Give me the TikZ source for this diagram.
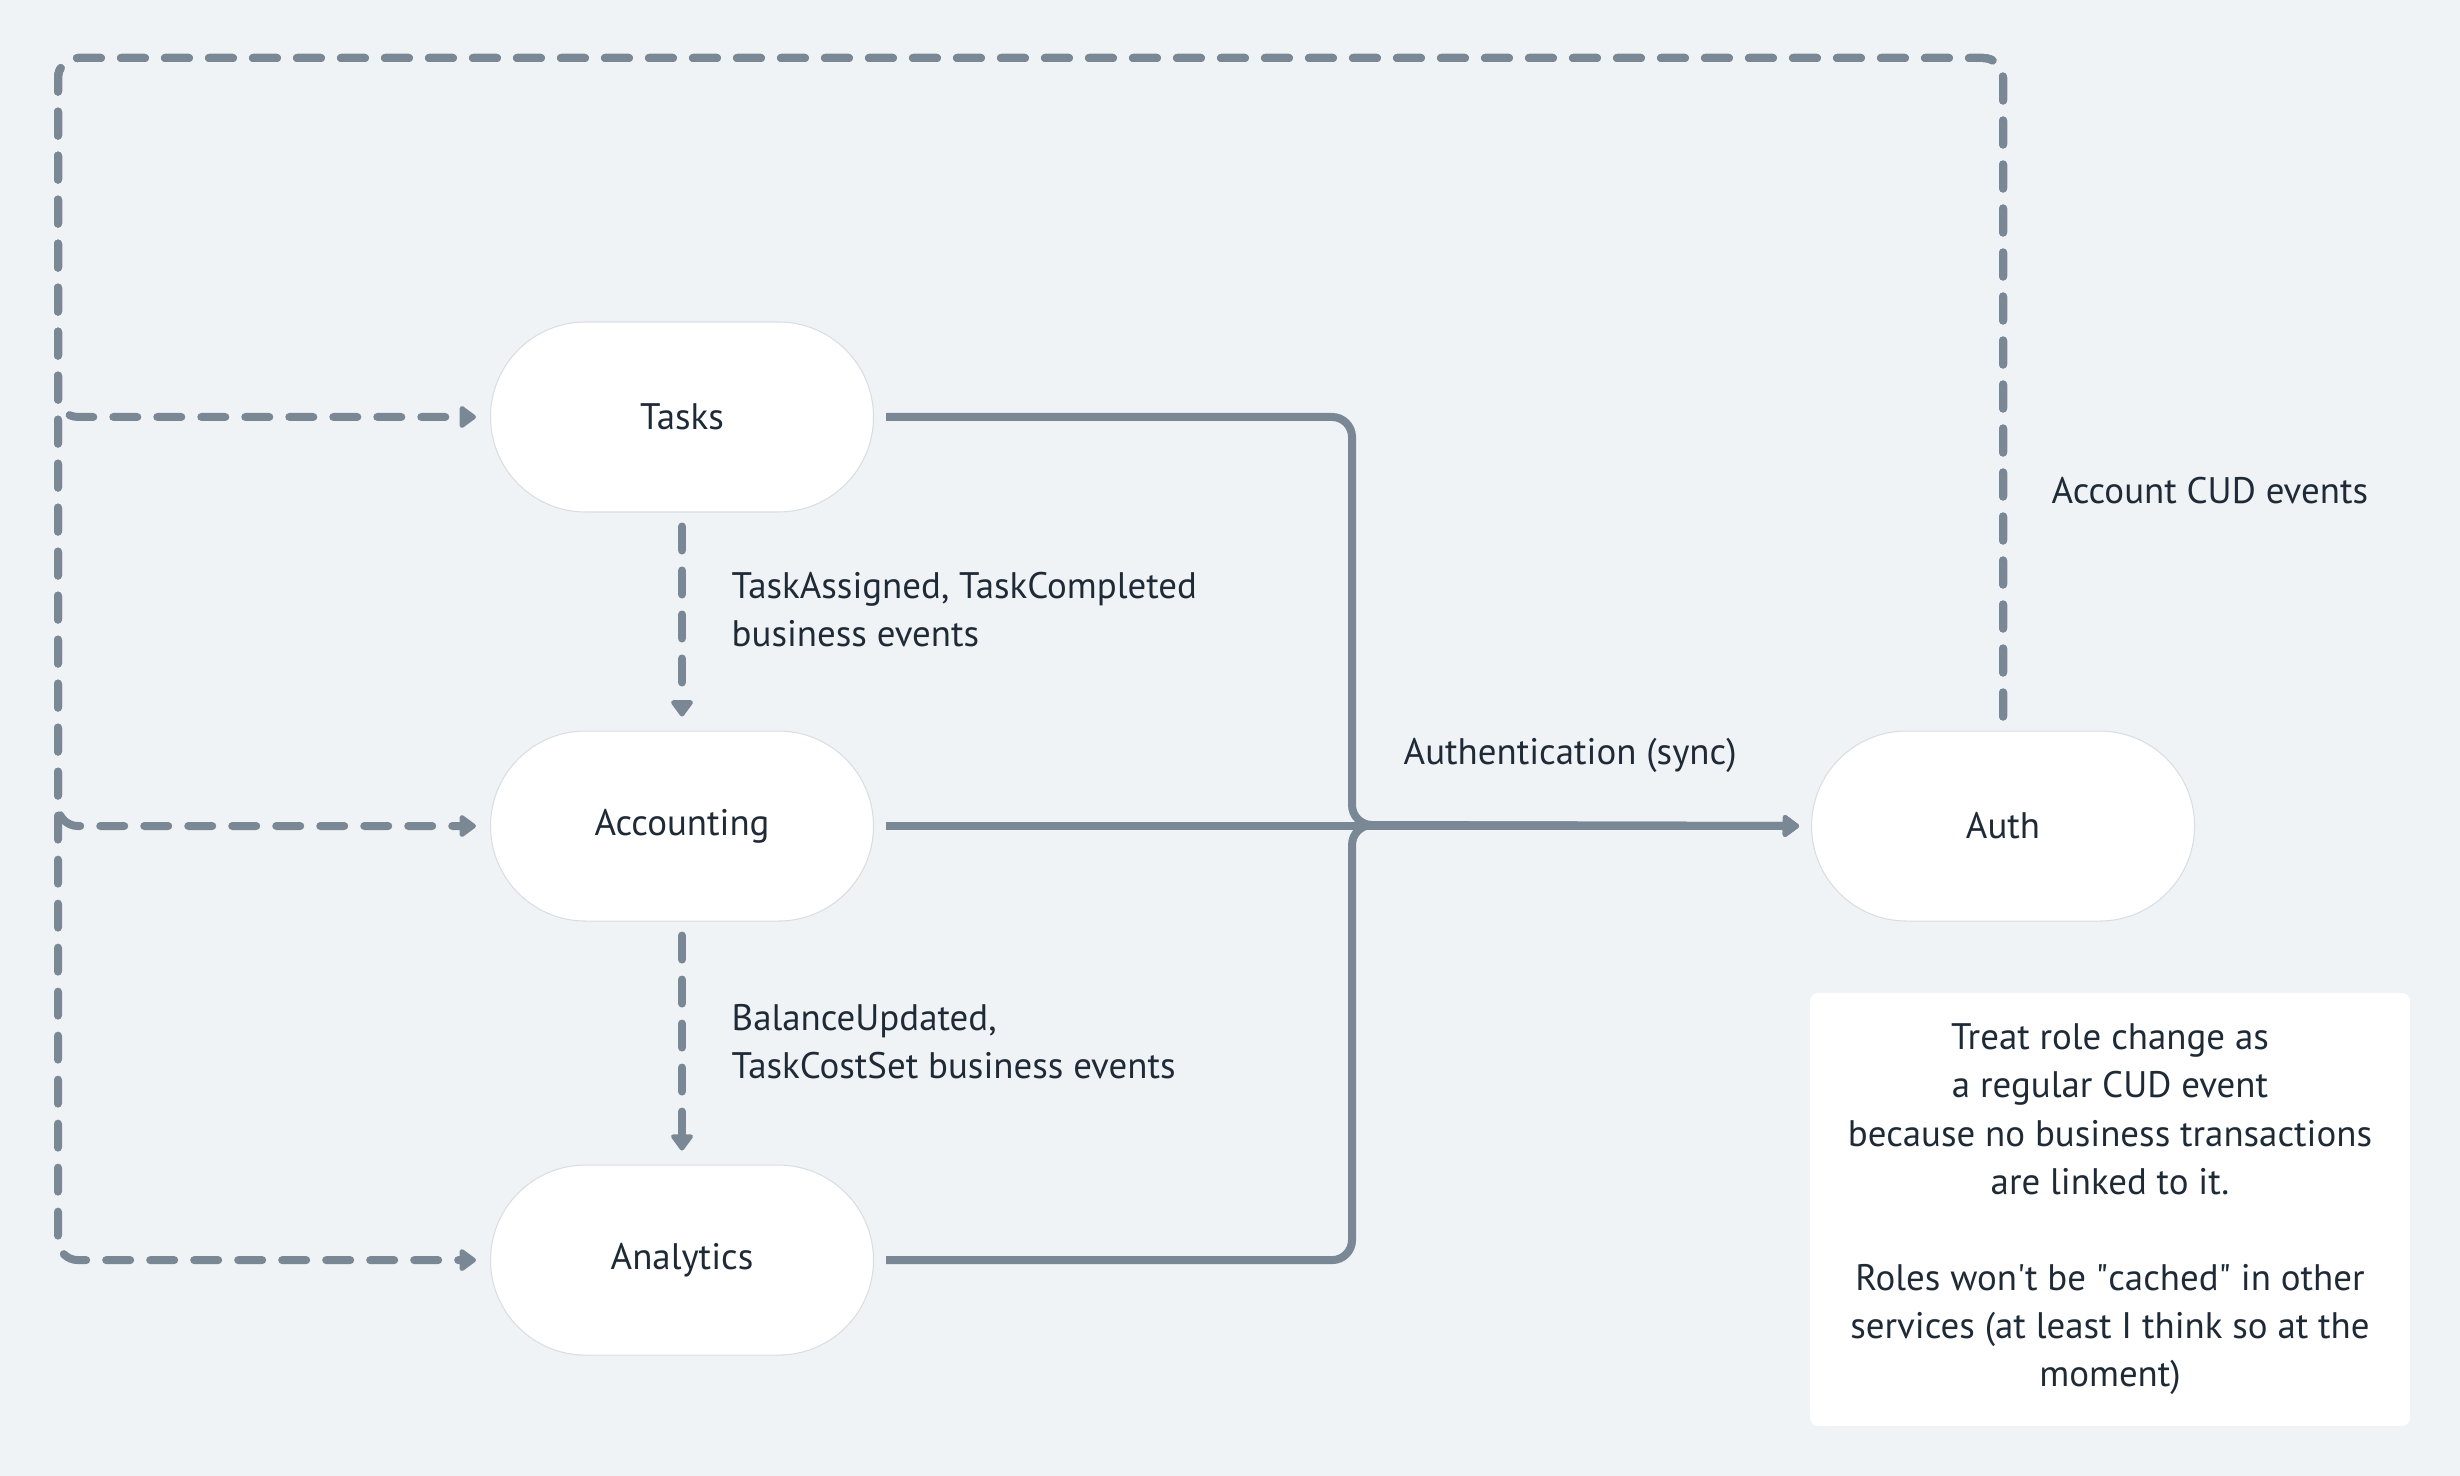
\documentclass[tikz,border=0pt]{standalone}
\usepackage{fontspec}
\setmainfont{PT Sans}
\usetikzlibrary{positioning}
\usetikzlibrary{arrows.meta}
\definecolor{bg}{RGB}{240,243,246}
\definecolor{edge}{RGB}{122,136,150}
\definecolor{ink}{RGB}{31,42,55}
\tikzset{%
  syncarrow/.style = {-{Triangle[length=1.8mm,width=2.5mm,round]},edge,
        line width=0.8mm,rounded corners=2mm,shorten <=1.2mm,shorten >=1.2mm},
  eventarrow/.style = {syncarrow,line cap=round,dash pattern=on 2.4mm off 2mm,
        shorten <=1.4mm,shorten >=1.4mm},
  svc/.style = {rectangle,rounded corners=9.5mm,fill=white,draw=bg!80!edge,
        line width=0.3pt,minimum width=38.3mm,minimum height=19mm},
  lbl/.style = {align=left,anchor=west,inner sep=0pt},
  note/.style = {rectangle,rounded corners=0.8mm,fill=white,align=center,
        minimum width=60mm,minimum height=43.3mm}
}

\begin{document}
\begin{tikzpicture}[font=\fontsize{10.5}{13.7}\selectfont,text=ink]
   \fill[bg] (0,0) rectangle (24.6,14.76);
   \useasboundingbox (0,0) rectangle (24.6,14.76);

   \node[svc] (tasks) at (6.82,10.59) {Tasks};
   \node[svc] (accounting) [below=2.18cm of tasks] {Accounting};
   \node[svc] (analytics) [below=2.43cm of accounting] {Analytics};
   \node[svc] (auth) [right=9.37cm of accounting] {Auth};
   \node[note] (note) at (21.10,2.665) {Treat role change as\\a regular CUD event\\because no business transactions\\are linked to it.\\[13.7pt]Roles won\textquotesingle t be \textquotedbl cached\textquotedbl{} in other\\services (at least I think so at the\\moment)};

   \node[lbl] (tasks-events) at (7.31,8.66) {TaskAssigned, TaskCompleted\\business events};
   \node[lbl] (accounting-events) at (7.31,4.34) {BalanceUpdated,\\TaskCostSet business events};
   \node[lbl] (sync) at (14.03,7.21) {Authentication (sync)};
   \node[lbl] (cud) at (20.51,9.85) {Account CUD events};

   \coordinate (loop) at (0.58,14.18);
   \coordinate (bus) at (13.52,6.51);

   \draw[syncarrow] (tasks.east) -| (bus) -- (auth.west);
   \draw[syncarrow] (accounting.east) -- (auth.west);
   \draw[syncarrow] (analytics.east) -| (bus) -- (auth.west);

   \draw[eventarrow] (auth.north) |- (loop) |- (tasks.west);
   \draw[eventarrow] (auth.north) |- (loop) |- (accounting.west);
   \draw[eventarrow] (auth.north) |- (loop) |- (analytics.west);
   \draw[eventarrow] (tasks) -- (accounting);
   \draw[eventarrow] (accounting) -- (analytics);
\end{tikzpicture}
\end{document}
